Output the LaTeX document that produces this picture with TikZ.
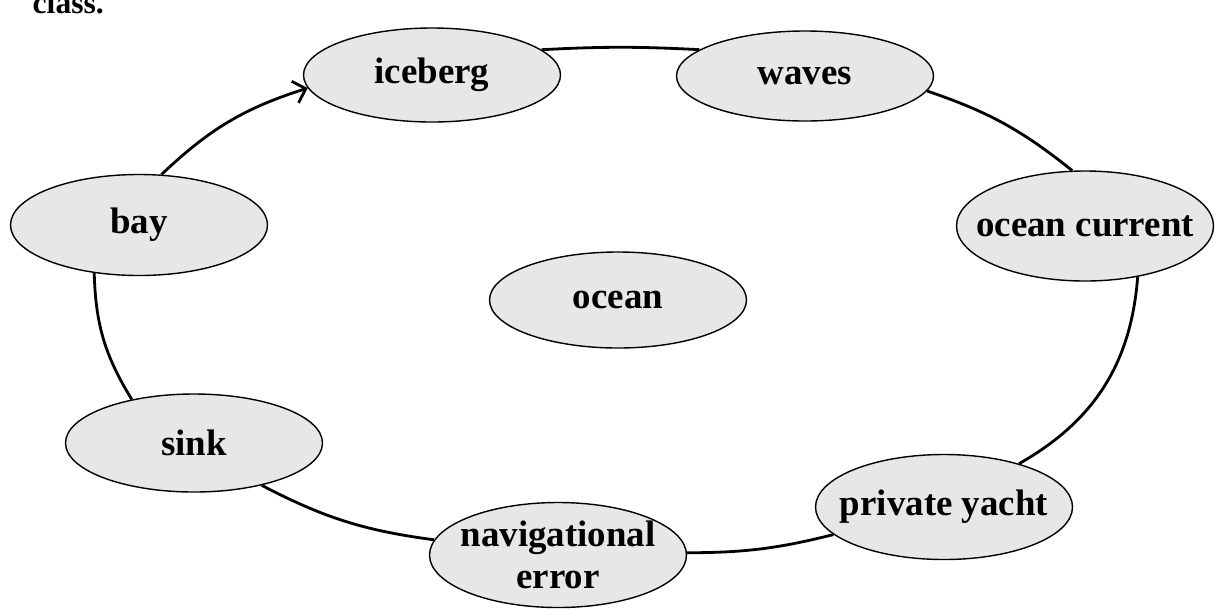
\documentclass[tikz,border=0pt]{standalone}
\usepackage{fontspec}
\setmainfont{Liberation Serif}
\usetikzlibrary{positioning,shapes,arrows.meta}
\definecolor{bubblegray}{RGB}{230,231,232}
\tikzset{
	thick,
	topic/.style ={ellipse, draw, fill=bubblegray, minimum width=2.57cm, minimum height=0.98cm, inner sep=0pt}, % the ellipse keeps its size, the word is put on it as a centred label
	every label/.style = {font=\bfseries\fontsize{10.5}{12}\selectfont, align=center},
	link/.style = {-, thick}
}

\begin{document}
\begin{tikzpicture}[on grid]
	\useasboundingbox (0,0) rectangle (12.16,6.08);
	\node[font=\bfseries\fontsize{9}{11}\selectfont, anchor=base west, inner sep=0pt] (class) at (0.32,5.95) {class.};
	\node[topic, minimum height=0.96cm, label=center:ocean] (ocean) at (6.18,3.08) {};
	\node[topic, minimum height=0.94cm, label=center:iceberg] (iceberg) [above left=2.25 and 1.86 of ocean] {};
	\node[topic, minimum height=0.90cm, label=center:waves] (waves) [above right=2.24 and 1.87 of ocean] {};
	\node[topic, minimum height=1.10cm, label=center:ocean current] (current) [above right=0.74 and 4.67 of ocean] {};
	\node[topic, minimum height=1.05cm, label=center:private yacht] (yacht) [below right=2.07 and 3.26 of ocean] {};
	\node[topic, minimum height=1.05cm, label=center:navigational\\error] (error) [below left=2.55 and 0.60 of ocean] {};
	\node[topic, label=center:sink] (sink) [below left=1.43 and 4.24 of ocean] {};
	\node[topic, minimum height=1.01cm, label=center:bay] (bay) [above left=0.75 and 4.79 of ocean] {};
	\draw[link] (iceberg.13) to[bend left=3] (waves.166);
	\draw[link] (waves.-7) to[bend left=10] (current.103);
	\draw[link] (current.-44) to[bend left=28] (yacht.30);
	\draw[link] (yacht.194) to[bend left=7] (error.1);
	\draw[link] (error.173) to[bend left=10] (sink.-32);
	\draw[link] (sink.145) to[bend left=15] (bay.227);
	\draw[link, -{Straight Barb[angle=90:1.6mm]}] (bay.66) to[bend left=13] (iceberg.186);
\end{tikzpicture}
\end{document}
